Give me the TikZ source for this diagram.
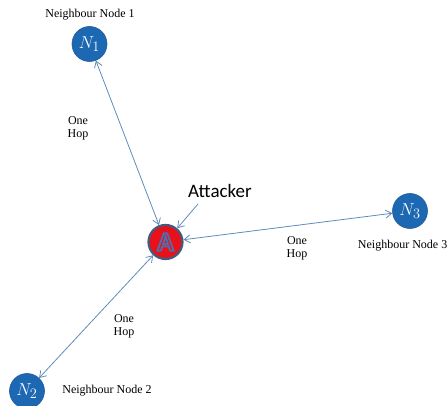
\documentclass[tikz,border=0pt]{standalone}
\usepackage{fontspec}
\setmainfont{Liberation Serif}
\newfontfamily\calib{Carlito}
\usetikzlibrary{arrows.meta}
\definecolor{nblue}{RGB}{28,104,178}
\definecolor{nborder}{RGB}{40,90,150}
\definecolor{lblue}{RGB}{96,140,186}
\definecolor{ared}{RGB}{232,16,26}
\definecolor{aborder}{RGB}{70,90,125}
\newcommand{\outlinedA}{{\color{ared}\special{pdf:code q 2 Tr 1.8 w 0.31 0.43 0.67 RG}A\special{pdf:code Q}}}
\tikzset{
  nnode/.style={circle,fill=nblue,draw=nborder,line width=0.6pt,minimum size=35pt,inner sep=0pt,text=white,font=\fontsize{19}{19}\selectfont},
  anode/.style={circle,fill=ared,draw=aborder,line width=2.2pt,minimum size=34pt,inner sep=0pt,font=\calib\bfseries\fontsize{27}{27}\selectfont},
  lbl/.style={font=\fontsize{12}{13}\selectfont,align=center,inner sep=0pt},
  link/.style={draw=lblue,line width=0.8pt,{Straight Barb[length=6pt,width=8pt,line width=0.8pt]}-{Straight Barb[length=6pt,width=8pt,line width=0.8pt]}},
  onelink/.style={draw=lblue,line width=0.8pt,-{Straight Barb[length=6pt,width=8pt,line width=0.8pt]}}
}
\begin{document}
\begin{tikzpicture}[x=1pt,y=-1pt]
\useasboundingbox (0,0) rectangle (448,406);
\clip (0,0) rectangle (448,406);
\node[nnode] (n1) at (89.5,44) {$N_1$};
\node[anode] (a) at (165.5,242) {\outlinedA};
\node[nnode] (n3) at (410,211) {$N_3$};
\node[nnode] (n2) at (27,391) {$N_2$};
\node[lbl] (t1) at (90,15) {Neighbour Node 1};
\node[lbl] (t2) at (107,391) {Neighbour Node 2};
\node[lbl,anchor=east] (t3) at (447.5,246) {Neighbour Node 3};
\node[font=\calib\fontsize{19}{19}\selectfont,inner sep=0pt] (att) at (220,191) {Attacker};
\node[lbl] (h1) at (78,128) {One\\Hop};
\node[lbl] (h3) at (297,248) {One\\Hop};
\node[lbl] (h2) at (124,326) {One\\Hop};
\coordinate (as) at (198,204);
\draw[link] (n1) -- (a);
\draw[link] (a) -- (n3);
\draw[link] (a) -- (n2);
\draw[onelink] (as) -- (a);
\end{tikzpicture}
\end{document}
